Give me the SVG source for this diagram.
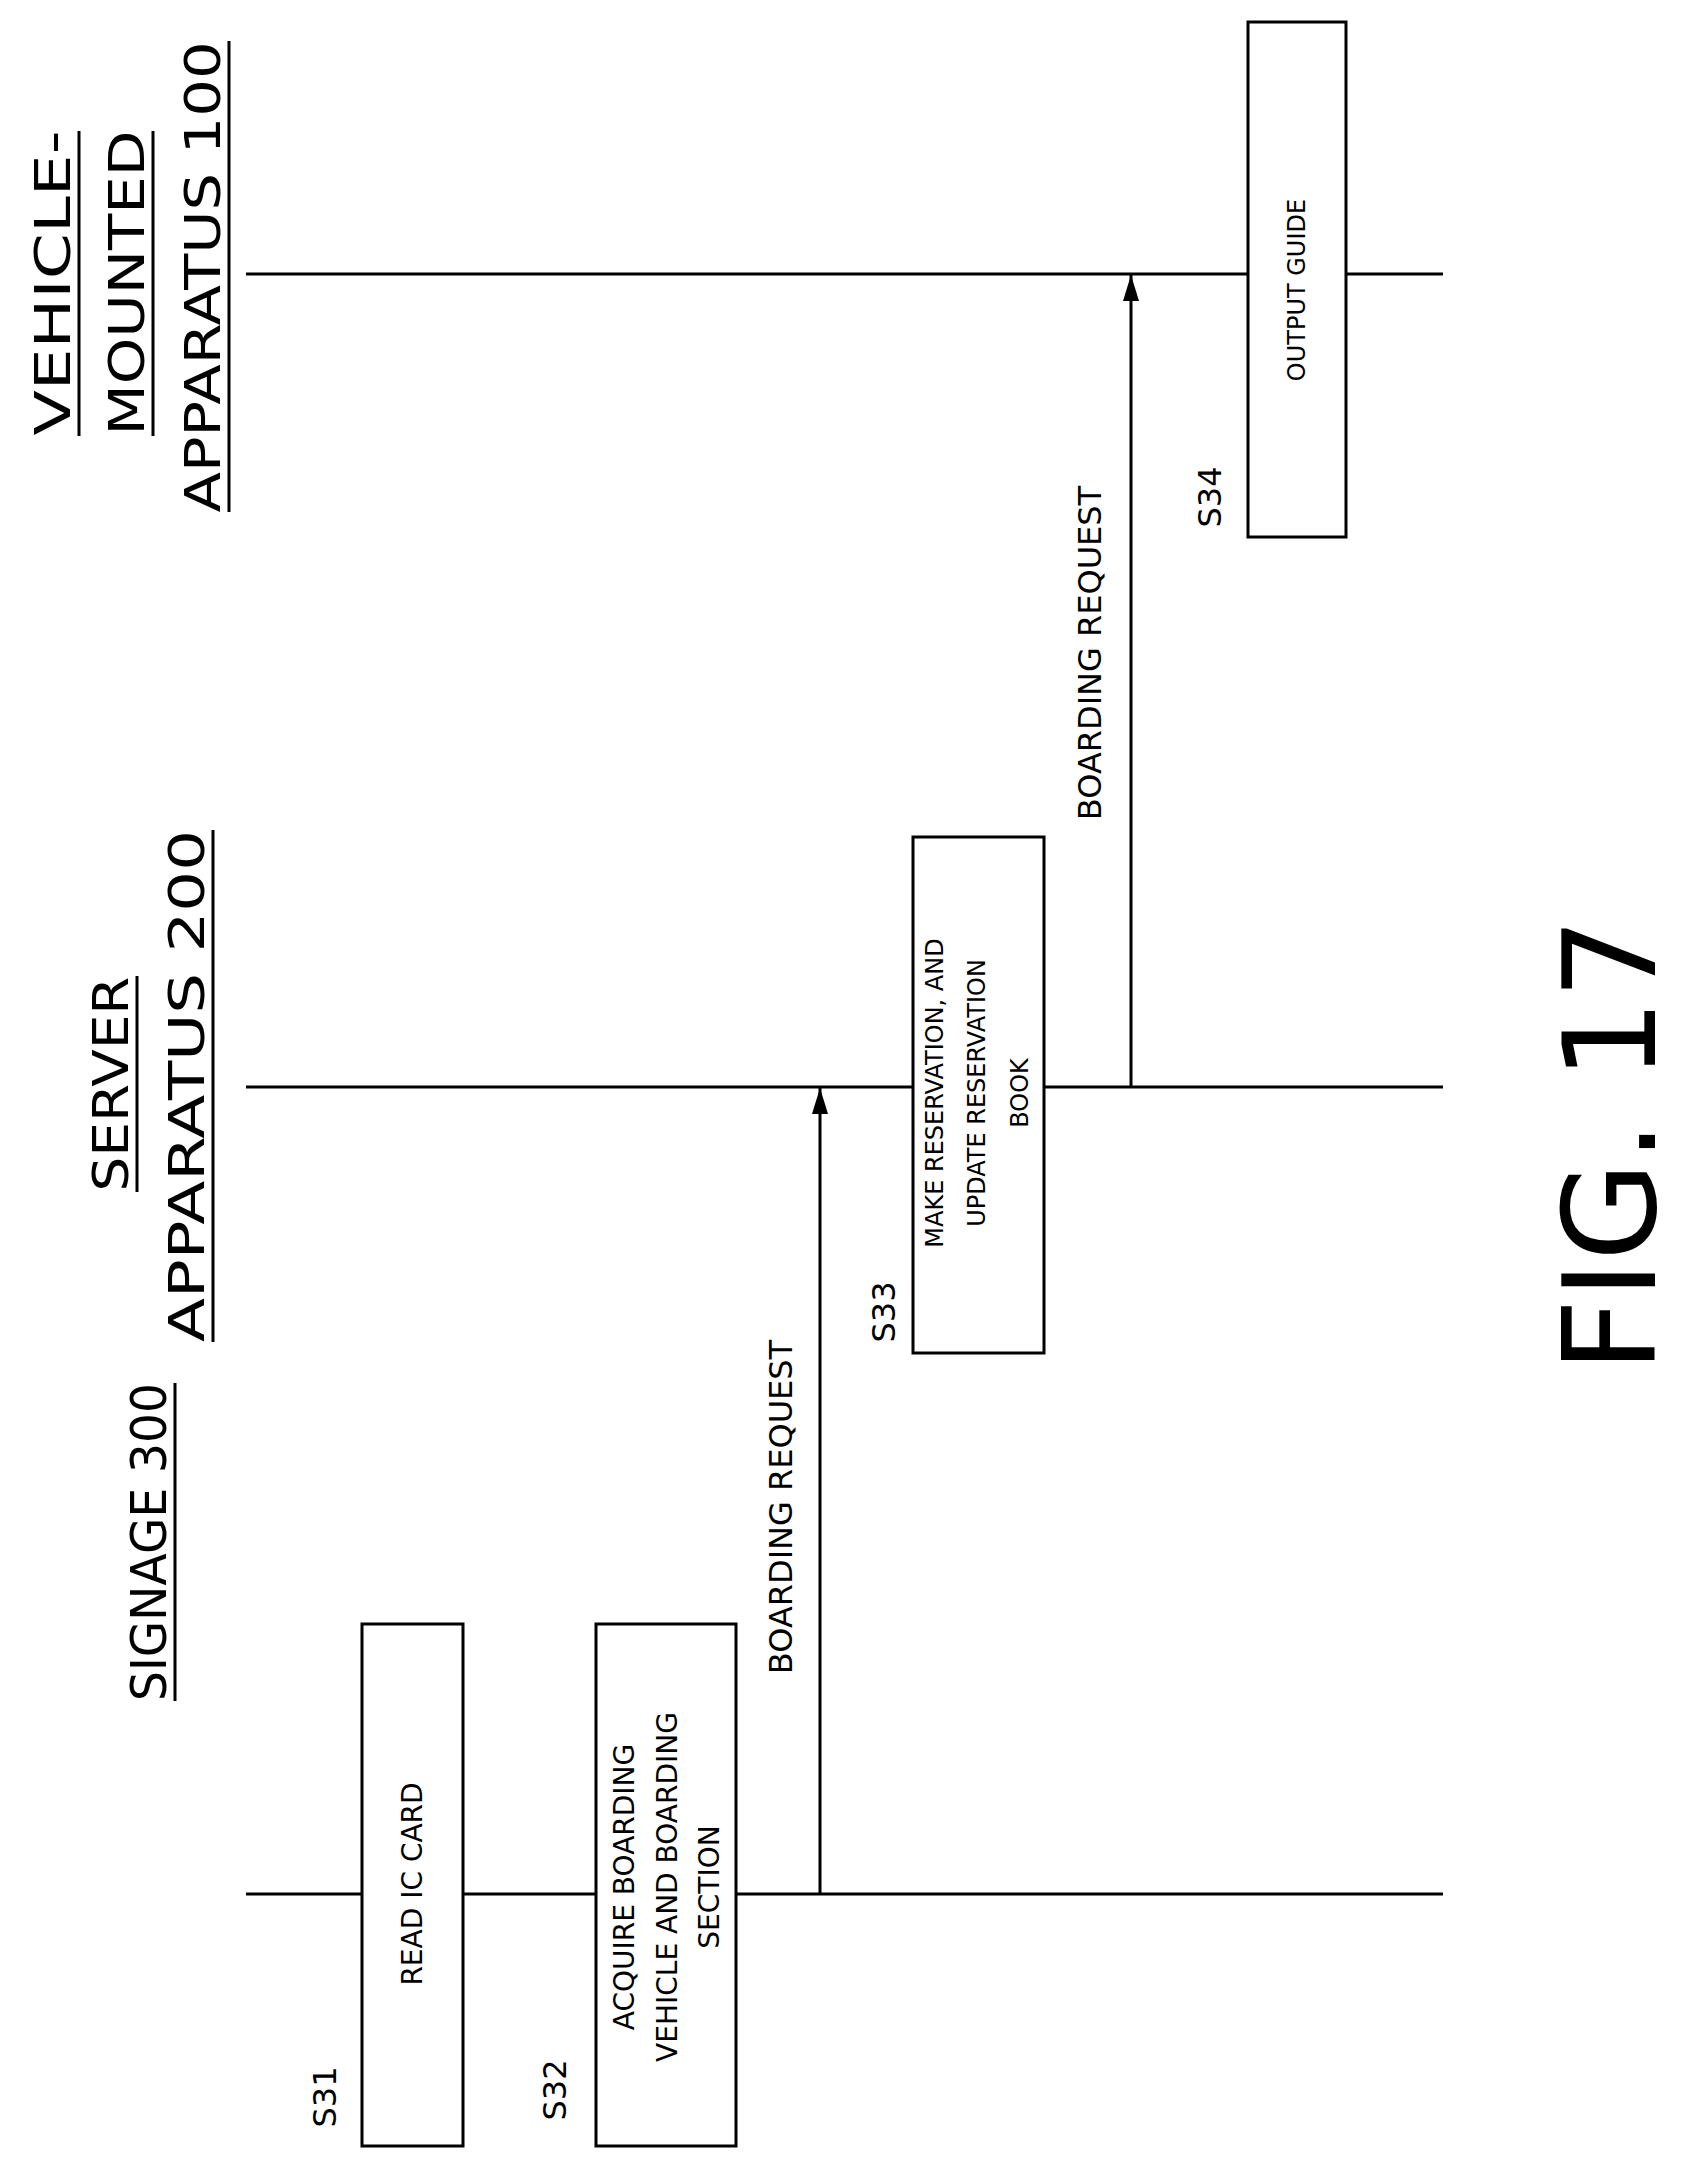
<svg xmlns="http://www.w3.org/2000/svg" width="1682" height="2170" viewBox="0 0 1682 2170">
<style>
text{font-family:"DejaVu Sans","Liberation Sans",sans-serif;fill:#000;text-anchor:middle;dominant-baseline:central}
.t{font-size:50px}
.b{font-size:28px}
.s{font-size:24px}
.l{font-size:32px}
.f{font-size:128px}
line,rect{stroke:#000;stroke-width:3;fill:none}
rect{fill:#fff}
</style>
<defs><marker id="ah" markerWidth="26" markerHeight="16" refX="26" refY="8" orient="auto" markerUnits="userSpaceOnUse" viewBox="0 0 26 16"><path d="M0,0 L26,8 L0,16 Z" fill="#000"/></marker></defs>
<g id="headers">
<g id="h-signage"><text class="t" textLength="318" lengthAdjust="spacingAndGlyphs" transform="translate(149,1542) rotate(-90)">SIGNAGE 300</text><line x1="175" y1="1383" x2="175" y2="1701" stroke-width="2"/></g>
<g id="h-server"><text class="t" textLength="215" lengthAdjust="spacingAndGlyphs" transform="translate(111,1084) rotate(-90)">SERVER</text><line x1="137" y1="976" x2="137" y2="1192" stroke-width="2"/><text class="t" textLength="512" lengthAdjust="spacingAndGlyphs" transform="translate(187,1086) rotate(-90)">APPARATUS 200</text><line x1="213" y1="830" x2="213" y2="1342" stroke-width="2"/></g>
<g id="h-vehicle"><text class="t" textLength="305" lengthAdjust="spacingAndGlyphs" transform="translate(53,283) rotate(-90)">VEHICLE-</text><line x1="79" y1="131" x2="79" y2="436" stroke-width="2"/><text class="t" textLength="305" lengthAdjust="spacingAndGlyphs" transform="translate(127,283) rotate(-90)">MOUNTED</text><line x1="153" y1="131" x2="153" y2="436" stroke-width="2"/><text class="t" textLength="471" lengthAdjust="spacingAndGlyphs" transform="translate(203,277) rotate(-90)">APPARATUS 100</text><line x1="229" y1="41" x2="229" y2="512" stroke-width="2"/></g>
</g>
<g id="lifelines">
<line x1="246" y1="274" x2="1443" y2="274" stroke-width="2"/>
<line x1="246" y1="1087" x2="1443" y2="1087" stroke-width="2"/>
<line x1="246" y1="1894" x2="1443" y2="1894" stroke-width="2"/>
</g>
<g id="connectors">
<line x1="820" y1="1894" x2="820" y2="1088" stroke-width="2" marker-end="url(#ah)"/>
<text class="l" transform="translate(781,1507) rotate(-90)">BOARDING REQUEST</text>
<line x1="1131" y1="1087" x2="1131" y2="275" stroke-width="2" marker-end="url(#ah)"/>
<text class="l" transform="translate(1090,653) rotate(-90)">BOARDING REQUEST</text>
</g>
<g id="s31"><rect x="362" y="1624" width="101" height="522"/><text class="b" transform="translate(412,1884) rotate(-90)">READ IC CARD</text><text class="l" transform="translate(325,2097) rotate(-90)">S31</text></g>
<g id="s32"><rect x="596" y="1624" width="140" height="522"/><text class="b" transform="translate(624,1887) rotate(-90)">ACQUIRE BOARDING</text><text class="b" transform="translate(667,1887) rotate(-90)">VEHICLE AND BOARDING</text><text class="b" transform="translate(709,1887) rotate(-90)">SECTION</text><text class="l" transform="translate(555,2090) rotate(-90)">S32</text></g>
<g id="s33"><rect x="913" y="837" width="131" height="516"/><text class="s" transform="translate(935,1093) rotate(-90)">MAKE RESERVATION, AND</text><text class="s" transform="translate(977,1093) rotate(-90)">UPDATE RESERVATION</text><text class="s" transform="translate(1020,1093) rotate(-90)">BOOK</text><text class="l" transform="translate(884,1312) rotate(-90)">S33</text></g>
<g id="s34"><rect x="1248" y="22" width="98" height="515"/><text class="s" transform="translate(1297,290) rotate(-90)">OUTPUT GUIDE</text><text class="l" transform="translate(1210,497) rotate(-90)">S34</text></g>
<text class="f" transform="translate(1610,1145) rotate(-90)">FIG. 17</text>
</svg>
